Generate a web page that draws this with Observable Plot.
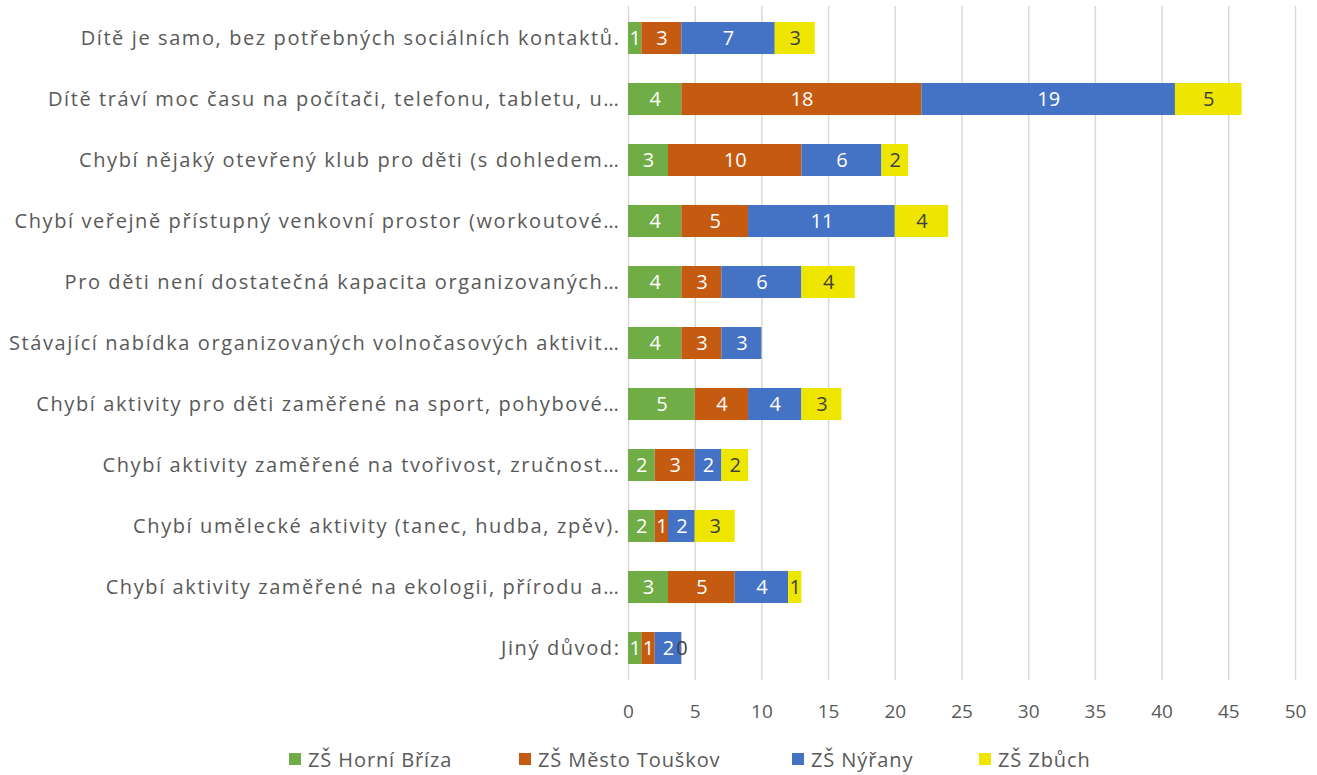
<!DOCTYPE html>
<html>
<head>
<meta charset="utf-8">
<script src="https://cdn.jsdelivr.net/npm/d3@7"></script>
<script src="https://cdn.jsdelivr.net/npm/@observablehq/plot@0.6"></script>
<style>
  html, body { margin: 0; padding: 0; background: #fff; }
  body { width: 1317px; height: 775px; overflow: hidden; font-family: "Open Sans", sans-serif; }
  #legend { position: relative; width: 1317px; height: 40px; }
  .item { position: absolute; top: 4px; height: 40px; display: flex; align-items: center; font-size: 20px; letter-spacing: 0.9px; color: #595959; white-space: nowrap; }
  .sw { width: 12px; height: 12px; margin-right: 7px; display: inline-block; }
  g[aria-label="y-axis tick label"] text { font-size: 20px; letter-spacing: 1.6px; }
</style>
</head>
<body>
<div id="chart"></div>
<div id="legend"></div>
<script>
const categories = [
  "Dítě je samo, bez potřebných sociálních kontaktů.",
  "Dítě tráví moc času na počítači, telefonu, tabletu, u…",
  "Chybí nějaký otevřený klub pro děti (s dohledem…",
  "Chybí veřejně přístupný venkovní prostor (workoutové…",
  "Pro děti není dostatečná kapacita organizovaných…",
  "Stávající nabídka organizovaných volnočasových aktivit…",
  "Chybí aktivity pro děti zaměřené na sport, pohybové…",
  "Chybí aktivity zaměřené na tvořivost, zručnost…",
  "Chybí umělecké aktivity (tanec, hudba, zpěv).",
  "Chybí aktivity zaměřené na ekologii, přírodu a…",
  "Jiný důvod:"
];
const seriesNames = ["ZŠ Horní Bříza", "ZŠ Město Touškov", "ZŠ Nýřany", "ZŠ Zbůch"];
const horniBriza  = [1, 4, 3, 4, 4, 4, 5, 2, 2, 3, 1];
const mestoTouskov = [3, 18, 10, 5, 3, 3, 4, 3, 1, 5, 1];
const nyrany      = [7, 19, 6, 11, 6, 3, 4, 2, 2, 4, 2];
const zbuch       = [3, 5, 2, 4, 4, null, 3, 2, 3, 1, 0];
const xTicks = [0, 5, 10, 15, 20, 25, 30, 35, 40, 45, 50];
const colors = ["#70AD47", "#C55A11", "#4472C4", "#EFE600"];

const seriesValues = [horniBriza, mestoTouskov, nyrany, zbuch];
const data = [];
categories.forEach((c, i) => {
  seriesNames.forEach((s, j) => {
    data.push({cat: c, series: s, value: seriesValues[j][i]});
  });
});
const labeled = data.filter(d => d.value != null);
const last = seriesNames[seriesNames.length - 1];

const stackOpts = {x: "value", y: "cat", z: "series", order: seriesNames};

const chart = Plot.plot({
  width: 1317,
  height: 735,
  marginLeft: 628,
  marginRight: 22,
  marginTop: 6,
  marginBottom: 55,
  style: {fontFamily: "'Open Sans', sans-serif", fontSize: "19px", color: "#595959", background: "#fff"},
  x: {domain: [0, 50], ticks: xTicks, tickSize: 0, tickPadding: 24, label: null, grid: false},
  y: {domain: categories, paddingInner: 0.48, paddingOuter: 0.24, tickSize: 0, tickPadding: 8, label: null},
  color: {domain: seriesNames, range: colors},
  marks: [
    Plot.ruleX(xTicks, {stroke: "#D9D9D9", strokeWidth: 1.5, strokeOpacity: 1}),
    Plot.barX(labeled, Plot.stackX({...stackOpts, fill: "series"})),
    Plot.text(labeled, Plot.stackX({...stackOpts, text: d => d.series !== last ? String(d.value) : null, fill: "white", fontSize: 20})),
    Plot.text(labeled, Plot.stackX({...stackOpts, text: d => d.series === last ? String(d.value) : null, fill: "#404040", fontSize: 20}))
  ]
});
document.getElementById("chart").appendChild(chart);

const legendLefts = [289, 519, 792, 979];
const legend = document.getElementById("legend");
seriesNames.forEach((s, i) => {
  const it = document.createElement("div");
  it.className = "item";
  it.style.left = legendLefts[i] + "px";
  const sw = document.createElement("span");
  sw.className = "sw";
  sw.style.background = colors[i];
  it.appendChild(sw);
  it.appendChild(document.createTextNode(s));
  legend.appendChild(it);
});
</script>
</body>
</html>
